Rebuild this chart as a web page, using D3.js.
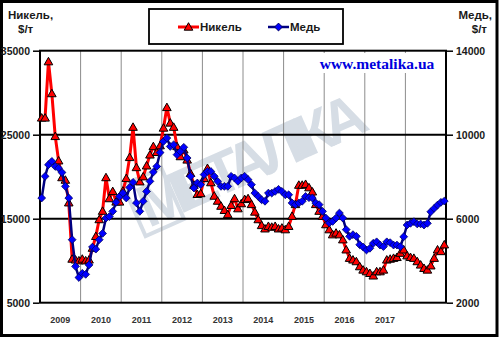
<!DOCTYPE html>
<html>
<head>
<meta charset="utf-8">
<script src="https://cdn.jsdelivr.net/npm/d3@7"></script>
<style>
  html, body { margin: 0; padding: 0; background: #fff; }
  svg { display: block; font-family: "Liberation Sans", Arial, sans-serif; }
</style>
</head>
<body>
<svg id="chart" width="500" height="340"></svg>
<script>
// Monthly prices, 10 years x 12 months
const nickel = [
  27000, 27000, 33700, 29900, 24800, 21900, 19900, 19600, 16900, 10200, 10100, 10000,
  10200, 10000, 10100, 11500, 12900, 14900, 15900, 19900, 17400, 18250, 17000, 17000,
  18300, 19800, 22300, 25900, 21100, 19400, 20000, 21300, 22600, 23600, 22900, 23700,
  25800, 28250, 26400, 25900, 23600, 22400, 23200, 22000, 20400, 19000, 17900, 18000,
  19800, 21000, 19300, 17700, 17100, 16500, 16000, 15500, 16600, 17400, 16200, 16800,
  17300, 17400, 16700, 15800, 14900, 14200, 13800, 14100, 14000, 14100, 13800, 13900,
  13700, 14100, 15300, 16700, 19000, 19000, 19100, 18700, 18200, 16700, 15900, 15300,
  14300, 13700, 13100, 13300, 13100, 12500, 11300, 10300, 10100, 9900, 9300, 8900,
  8700, 8500, 8200, 8700, 8700, 8900, 10100, 10200, 10300, 10400, 10900, 11300,
  10600, 10400, 10300, 9900, 9500, 9100, 8900, 9400, 10300, 11300, 11100, 11900
];
const copper = [
  6985, 8016, 8570, 8730, 8490, 8410, 8200, 7540, 6985, 5000, 3730, 3200,
  3400, 3350, 3800, 4650, 4550, 5000, 5300, 6030, 6100, 6350, 6780, 7060,
  7220, 6985, 7490, 7730, 6750, 6350, 6830, 7300, 7780, 8220, 8490, 9150,
  9680, 9840, 9440, 9520, 9050, 9200, 9400, 8890, 8020, 7460, 7700, 7620,
  8100, 8250, 8250, 8020, 7780, 7540, 7540, 7540, 8020, 7940, 7780, 7940,
  8020, 7860, 7620, 7220, 7060, 6900, 6830, 7220, 7220, 7300, 7400, 7300,
  7140, 7140, 6750, 6670, 6750, 6830, 7060, 7000, 6985, 6750, 6670, 6350,
  6030, 5800, 5870, 6030, 6270, 6030, 5480, 5160, 5240, 5160, 4760, 4650,
  4510, 4590, 4830, 4900, 4745, 4670, 4900, 4860, 4745, 4745, 4670, 5140,
  5700, 5780, 5860, 5750, 5750, 5700, 5780, 6330, 6490, 6650, 6780, 6840
];
const yearLabels = ["2009", "2010", "2011", "2012", "2013", "2014", "2015", "2016", "2017"];
const nickelTicks = [5000, 15000, 25000, 35000];
const copperTicks = [2000, 6000, 10000, 14000];
const legendNames = ["Никель", "Медь"];

const svg = d3.select("#chart");
const plot = { left: 40, right: 446, top: 50.7, bottom: 302.7 };

const idx = d3.range(nickel.length);
const x = d3.scaleBand().domain(idx).range([plot.left, plot.right]).padding(0);
const cx = i => x(i) + x.bandwidth() / 2;
const yN = d3.scaleLinear().domain([5000, 35000]).range([plot.bottom, plot.top]);
const yC = d3.scaleLinear().domain([2000, 14000]).range([plot.bottom, plot.top]);

// outer frame
svg.append("rect").attr("x", 1.5).attr("y", 1.5).attr("width", 495.5).attr("height", 334)
  .attr("fill", "#fff").attr("stroke", "#000").attr("stroke-width", 3);

// watermark logo
const wm = svg.append("g").attr("transform", "translate(252,180) rotate(-24)");
wm.append("rect").attr("x", -120).attr("y", -48).attr("width", 42).attr("height", 56)
  .attr("fill", "none").attr("stroke", "#d6dde5").attr("stroke-width", 4);
wm.append("text").attr("x", -114).attr("y", 2).attr("font-size", 60).attr("font-weight", "bold")
  .attr("fill", "#d6dde5").attr("font-family", "'Liberation Sans', Arial, sans-serif")
  .attr("textLength", 244).text("МЕТАЛІКА");

// vertical gridlines at year boundaries
const yearBounds = d3.range(12, nickel.length, 12);
svg.append("g").selectAll("line").data(yearBounds).join("line")
  .attr("x1", d => x(d)).attr("x2", d => x(d))
  .attr("y1", plot.top).attr("y2", plot.bottom)
  .attr("stroke", "#8c8c8c").attr("stroke-width", 1);

// horizontal gridlines
svg.append("g").selectAll("line").data(nickelTicks.slice(1, -1)).join("line")
  .attr("x1", plot.left).attr("x2", plot.right)
  .attr("y1", d => yN(d)).attr("y2", d => yN(d))
  .attr("stroke", "#000").attr("stroke-width", 2);

// site caption
svg.append("rect").attr("x", 309).attr("y", 53).attr("width", 136).attr("height", 20).attr("fill", "#fff");
svg.append("text").attr("x", 377).attr("y", 69).attr("text-anchor", "middle")
  .attr("font-family", "'Liberation Serif', 'Times New Roman', serif").attr("font-weight", "bold")
  .attr("font-size", 15.5).attr("fill", "#0000dd").text("www.metalika.ua");

// plot border
svg.append("rect").attr("x", plot.left).attr("y", plot.top)
  .attr("width", plot.right - plot.left).attr("height", plot.bottom - plot.top)
  .attr("fill", "none").attr("stroke", "#000").attr("stroke-width", 2);

// axes
const leftAxis = d3.axisLeft(yN).tickValues(nickelTicks).tickSize(6).tickPadding(3).tickFormat(d3.format("d"));
const rightAxis = d3.axisRight(yC).tickValues(copperTicks).tickSize(6).tickPadding(3).tickFormat(d3.format("d"));
function styleAxis(g) {
  g.select(".domain").remove();
  g.selectAll(".tick line").attr("stroke", "#000").attr("stroke-width", 1.5);
  g.selectAll(".tick text").attr("font-size", 10.5).attr("font-weight", "bold").attr("fill", "#1a1a1a")
    .attr("font-family", "'Liberation Sans', Arial, sans-serif");
}
svg.append("g").attr("transform", `translate(${plot.left - 1},0)`).call(leftAxis).call(styleAxis);
svg.append("g").attr("transform", `translate(${plot.right + 1},0)`).call(rightAxis).call(styleAxis);

// year labels centred in each year band
svg.append("g").selectAll("text").data(yearLabels).join("text")
  .attr("x", (d, k) => x(12 * k + 6)).attr("y", 323)
  .attr("text-anchor", "middle").attr("font-size", 9).attr("font-weight", "bold")
  .attr("fill", "#333").text(d => d);

// axis titles
const tL = svg.append("text").attr("font-size", 11.5).attr("font-weight", "bold").attr("fill", "#1a1a1a");
tL.append("tspan").attr("x", 8).attr("y", 19).text("Никель,");
tL.append("tspan").attr("x", 18).attr("y", 33).text("$/т");
const tR = svg.append("text").attr("font-size", 11.5).attr("font-weight", "bold").attr("fill", "#1a1a1a").attr("text-anchor", "end");
tR.append("tspan").attr("x", 492).attr("y", 19).text("Медь,");
tR.append("tspan").attr("x", 487).attr("y", 33).text("$/т");

// marker shapes
const triPath = "M0,-4.3L4.3,3.2L-4.3,3.2Z";
const diaPath = "M0,-3.9L3.9,0L0,3.9L-3.9,0Z";

// nickel series
svg.append("path").datum(idx)
  .attr("d", d3.line().x(cx).y(i => yN(nickel[i])))
  .attr("fill", "none").attr("stroke", "#ff0000").attr("stroke-width", 3).attr("stroke-linejoin", "round");
svg.append("g").selectAll("path").data(idx).join("path")
  .attr("d", triPath).attr("transform", i => `translate(${cx(i)},${yN(nickel[i])})`)
  .attr("fill", "#ff0000").attr("stroke", "#000").attr("stroke-width", 1);

// copper series
svg.append("path").datum(idx)
  .attr("d", d3.line().x(cx).y(i => yC(copper[i])))
  .attr("fill", "none").attr("stroke", "#000080").attr("stroke-width", 2.5).attr("stroke-linejoin", "round");
svg.append("g").selectAll("path").data(idx).join("path")
  .attr("d", diaPath).attr("transform", i => `translate(${cx(i)},${yC(copper[i])})`)
  .attr("fill", "#0000ff").attr("stroke", "#000060").attr("stroke-width", 0.8);

// legend
const lg = svg.append("g");
lg.append("rect").attr("x", 149).attr("y", 9).attr("width", 194).attr("height", 35)
  .attr("fill", "#fff").attr("stroke", "#000").attr("stroke-width", 1.8);
const items = [
  { name: legendNames[0], x: 178, color: "#ff0000", w: 3, marker: triPath, fill: "#ff0000", stroke: "#000" },
  { name: legendNames[1], x: 268, color: "#000080", w: 2.5, marker: diaPath, fill: "#0000ff", stroke: "#000060" }
];
items.forEach(it => {
  lg.append("line").attr("x1", it.x).attr("x2", it.x + 21).attr("y1", 27).attr("y2", 27)
    .attr("stroke", it.color).attr("stroke-width", it.w);
  lg.append("path").attr("d", it.marker).attr("transform", `translate(${it.x + 10.5},27)`)
    .attr("fill", it.fill).attr("stroke", it.stroke).attr("stroke-width", 1);
  lg.append("text").attr("x", it.x + 22).attr("y", 31).attr("font-size", 11.5).attr("font-weight", "bold")
    .attr("fill", "#1a1a1a").text(it.name);
});
</script>
</body>
</html>
